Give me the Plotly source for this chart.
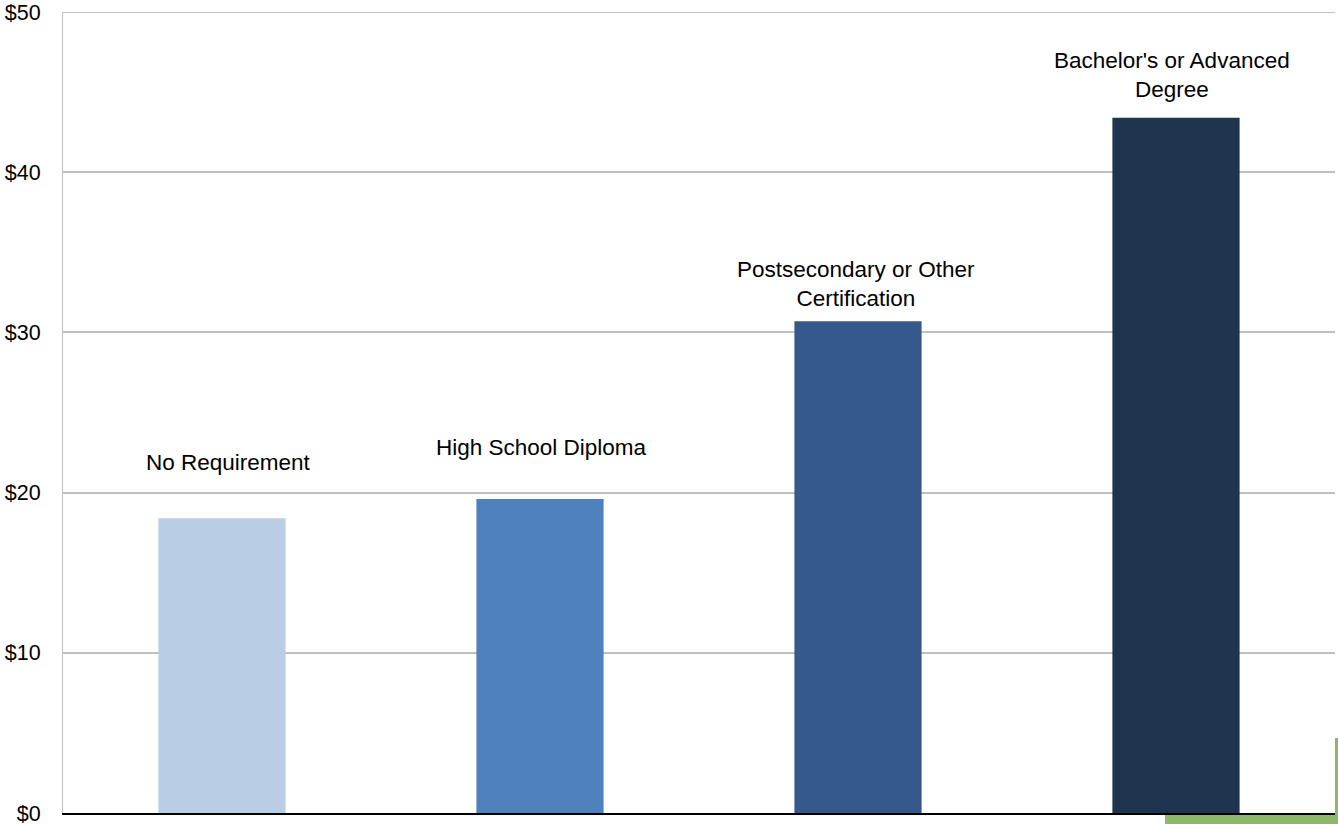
import plotly.graph_objects as go

categories = ["No Requirement", "High School Diploma", "Postsecondary or Other Certification", "Bachelor's or Advanced Degree"]
label_text = ["No Requirement", "High School Diploma", "Postsecondary or Other<br>Certification", "Bachelor's or Advanced<br>Degree"]
values = [18.4, 19.6, 30.7, 43.4]
colors = ["#B9CDE5", "#4F81BD", "#35598A", "#1F344F"]
label_shift_y = [56, 52, 37, 43]
label_shift_x = [6, 1, -2, -4]
tick_vals = [0, 10, 20, 30, 40, 50]
tick_text = ["$0", "$10", "$20", "$30", "$40", "$50"]

W, H = 1338, 824
L, R, T, B = 63, 3, 12, 11

fig = go.Figure()
fig.add_trace(go.Bar(x=categories, y=values, marker=dict(color=colors, line=dict(width=0)),
                     width=0.4, hoverinfo="skip"))

for c, lab, v, sy, sx in zip(categories, label_text, values, label_shift_y, label_shift_x):
    fig.add_annotation(x=c, y=v, text=lab, showarrow=False, yanchor="middle", yshift=sy, xshift=sx,
                       font=dict(family="Liberation Sans, Arial", size=22.5, color="#000000"))

pw = W - L - R
ph = H - T - B
def px(x):
    return (x - L) / pw
def py(y):
    return (H - B - y) / ph

# top gridline (plotly drops gridlines lying on the plot edge)
fig.add_shape(type="line", xref="paper", yref="y", x0=0, x1=1, y0=max(tick_vals), y1=max(tick_vals),
              line=dict(color="#C0C0C0", width=2), layer="below")

# decorative green slide edge in bottom-right corner
fig.add_shape(type="rect", xref="paper", yref="paper", x0=px(1335), x1=px(1340), y0=py(830), y1=py(738),
              fillcolor="#8DB86B", line=dict(width=0), layer="above")
fig.add_shape(type="rect", xref="paper", yref="paper", x0=px(1165), x1=px(1340), y0=py(830), y1=py(815),
              fillcolor="#8DB86B", line=dict(width=0), layer="above")

fig.update_layout(
    width=W, height=H,
    margin=dict(l=L, r=R, t=T, b=B, autoexpand=False),
    paper_bgcolor="white", plot_bgcolor="white",
    showlegend=False,
    font=dict(family="Liberation Sans, Arial", size=21.5, color="#000000"),
    xaxis=dict(showticklabels=False, showgrid=False, zeroline=False, showline=True,
               linecolor="#000000", linewidth=2, ticks="", automargin=False),
    yaxis=dict(range=[0, 50], tickvals=tick_vals, ticktext=tick_text, showgrid=True,
               gridcolor="#C0C0C0", gridwidth=2, zeroline=False, showline=True,
               linecolor="#BFBFBF", linewidth=1, ticks="", ticklabelstandoff=17,
               ticklabeloverflow="allow", automargin=False,
               tickfont=dict(size=21.5)),
    bargap=0.6,
)

fig.write_html("out.html", config={"displayModeBar": False},
               post_script="document.body.style.margin='0';document.body.style.overflow='hidden';")
